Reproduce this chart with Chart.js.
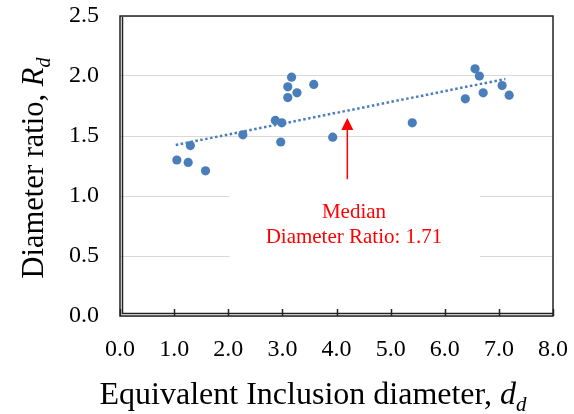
<!DOCTYPE html>
<html>
<head>
<meta charset="utf-8">
<script src="https://cdn.jsdelivr.net/npm/chart.js@4.4.0/dist/chart.umd.min.js"></script>
<style>
  html, body { margin:0; padding:0; background:#fff }
  #wrap { width:574px; height:414px }
</style>
</head>
<body>
<div id="wrap"><canvas id="chart"></canvas></div>
<script>
// equivalent inclusion diameter d_d vs diameter ratio R_d
const inclDiameter  = [1.05, 1.26, 1.30, 1.58, 2.27, 2.87, 2.99, 2.97, 3.10, 3.10, 3.17, 3.27, 3.58, 3.93, 5.40, 6.38, 6.56, 6.64, 6.71, 7.06, 7.19]
const diameterRatio = [1.30, 1.28, 1.42, 1.21, 1.51, 1.63, 1.61, 1.45, 1.82, 1.91, 1.99, 1.86, 1.93, 1.49, 1.61, 1.81, 2.06, 2.00, 1.86, 1.92, 1.84]

// linear trend line, end points
const trendX = [1.03, 7.12]
const trendY = [1.425, 1.975]

const xTicks = [0, 1, 2, 3, 4, 5, 6, 7, 8]
const yTicks = [0, 0.5, 1.0, 1.5, 2.0, 2.5]

const medianText = ['Median', 'Diameter Ratio: 1.71']
const arrowX = 4.2, arrowFrom = 1.14, arrowTo = 1.65

const SERIF = '"Liberation Serif", "Times New Roman", serif'
const BLUE  = '#4a7ebb'

const decor = {
  id: 'decor',
  beforeDatasetsDraw(chart) {
    const { ctx, scales: { x, y } } = chart
    // white text box behind the annotation hides the grid
    ctx.save()
    ctx.fillStyle = '#fff'
    const l = x.getPixelForValue(2.02), r = x.getPixelForValue(6.65)
    const t = y.getPixelForValue(1.1),  b = y.getPixelForValue(0.4)
    ctx.fillRect(l, t, r - l, b - t)
    ctx.restore()
  },
  afterDatasetsDraw(chart) {
    const { ctx, chartArea: a, scales: { x, y } } = chart
    ctx.save()

    // plot border, double line on left and bottom
    ctx.strokeStyle = '#222'
    ctx.lineWidth = 1.5
    ctx.strokeRect(a.left, a.top, a.right - a.left, a.bottom - a.top)
    ctx.beginPath()
    ctx.moveTo(a.left + 2.5, a.top + 1)
    ctx.lineTo(a.left + 2.5, a.bottom - 2.5)
    ctx.lineTo(a.right, a.bottom - 2.5)
    ctx.stroke()

    // inward tick marks on x axis
    ctx.lineWidth = 1.5
    xTicks.forEach(v => {
      const px = Math.round(x.getPixelForValue(v)) + 0.5
      ctx.beginPath()
      ctx.moveTo(px, a.bottom)
      ctx.lineTo(px, a.bottom - 7)
      ctx.stroke()
    })

    // red arrow
    const ax = x.getPixelForValue(arrowX)
    const y0 = y.getPixelForValue(arrowFrom), y1 = y.getPixelForValue(arrowTo)
    ctx.strokeStyle = ctx.fillStyle = '#ff0000'
    ctx.lineWidth = 1.5
    ctx.beginPath()
    ctx.moveTo(ax, y0)
    ctx.lineTo(ax, y1 + 11)
    ctx.stroke()
    ctx.beginPath()
    ctx.moveTo(ax, y1)
    ctx.lineTo(ax - 6, y1 + 12)
    ctx.lineTo(ax + 6, y1 + 12)
    ctx.closePath()
    ctx.fill()

    // annotation text
    ctx.font = '21px ' + SERIF
    ctx.textAlign = 'center'
    ctx.textBaseline = 'alphabetic'
    ctx.fillText(medianText[0], 354, 218)
    ctx.fillText(medianText[1], 354, 243)

    // axis titles with italic subscripts
    ctx.fillStyle = '#000'
    drawTitle(ctx, 'Equivalent Inclusion diameter, ', 'd', 'd', 313, 404, 32)
    ctx.translate(43, 168)
    ctx.rotate(-Math.PI / 2)
    drawTitle(ctx, 'Diameter ratio, ', 'R', 'd', 0, 0, 30.5)
    ctx.restore()
  }
}

function drawTitle(ctx, main, ital, sub, cx, base, size) {
  const big = size + 'px ' + SERIF, it = 'italic ' + size + 'px ' + SERIF
  const sm = 'italic ' + Math.round(size * 0.66) + 'px ' + SERIF
  ctx.textAlign = 'left'
  ctx.textBaseline = 'alphabetic'
  ctx.font = big; const w1 = ctx.measureText(main).width
  ctx.font = it;  const w2 = ctx.measureText(ital).width
  ctx.font = sm;  const w3 = ctx.measureText(sub).width
  let px = cx - (w1 + w2 + w3) / 2
  ctx.font = big; ctx.fillText(main, px, base); px += w1
  ctx.font = it;  ctx.fillText(ital, px, base); px += w2
  ctx.font = sm;  ctx.fillText(sub, px, base + size * 0.22)
}

// drop the label overflow padding Chart.js adds, the layout padding decides the plot box
const noPad = s => { s.paddingTop = s.paddingBottom = s.paddingLeft = s.paddingRight = 0 }

new Chart(document.getElementById('chart'), {
  type: 'scatter',
  data: {
    datasets: [
      {
        label: 'Diameter ratio',
        data: inclDiameter.map((v, i) => ({ x: v, y: diameterRatio[i] })),
        backgroundColor: BLUE, borderWidth: 0, pointRadius: 4.6, pointHoverRadius: 4.6,
        order: 2,
      },
      {
        label: 'Trend',
        type: 'line',
        data: trendX.map((v, i) => ({ x: v, y: trendY[i] })),
        borderColor: BLUE, borderWidth: 2.5, borderDash: [2.5, 2.5],
        pointRadius: 0, fill: false, order: 1,
      },
    ],
  },
  options: {
    responsive: true, maintainAspectRatio: false, animation: false,
    devicePixelRatio: 1,
    layout: { padding: { left: 0, right: 21, top: 16, bottom: 0 } },
    plugins: { legend: { display: false }, tooltip: { enabled: false } },
    scales: {
      x: {
        type: 'linear', min: 0, max: 8,
        afterBuildTicks: s => { s.ticks = xTicks.map(v => ({ value: v })) },
        afterFit: s => { s.height = 98; noPad(s) },
        grid: { display: false, drawTicks: false },
        border: { display: false },
        ticks: { padding: 19, color: '#000', font: { family: SERIF, size: 24 }, callback: v => v.toFixed(1) },
      },
      y: {
        type: 'linear', min: 0, max: 2.5,
        afterBuildTicks: s => { s.ticks = yTicks.map(v => ({ value: v })) },
        afterFit: s => { s.width = 120; noPad(s) },
        grid: { color: '#d9d9d9', lineWidth: 1, drawTicks: false },
        border: { display: false },
        ticks: { padding: 21, color: '#000', font: { family: SERIF, size: 24 }, callback: v => v.toFixed(1) },
      },
    },
  },
  plugins: [decor],
})
</script>
</body>
</html>
